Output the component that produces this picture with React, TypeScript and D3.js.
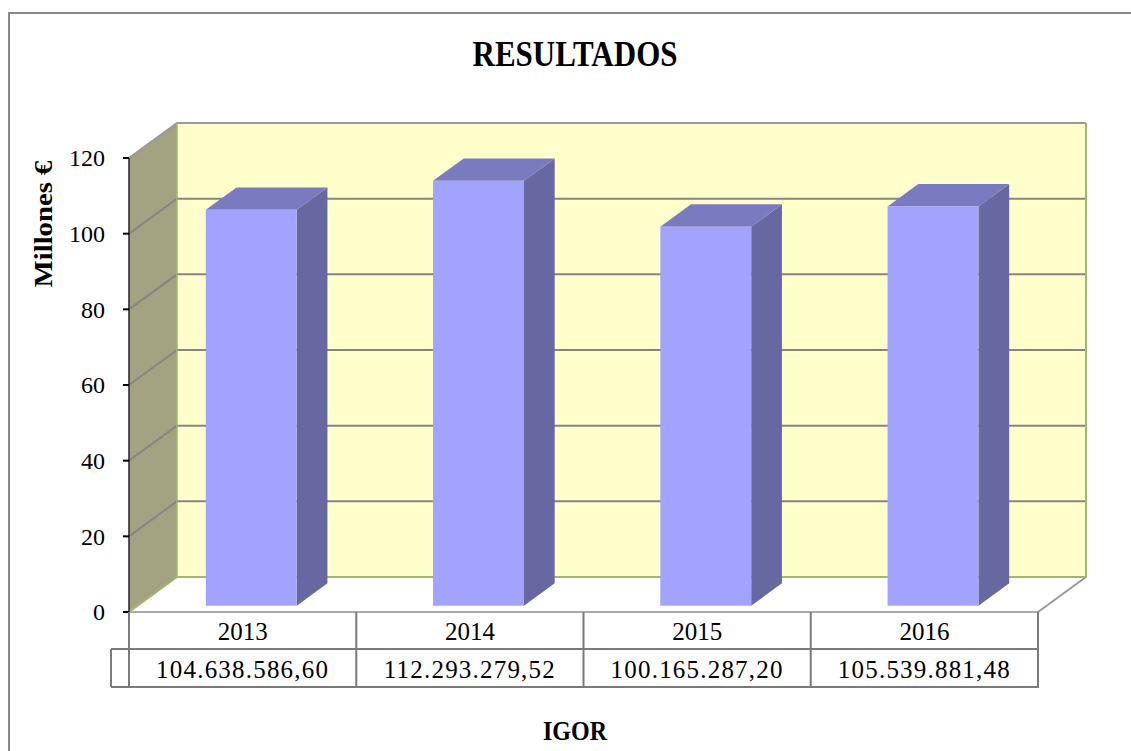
import { useEffect, useRef } from "react"
import * as d3 from "d3"

const years = ["2013", "2014", "2015", "2016"]
const results = [104638586.6, 112293279.52, 100165287.2, 105539881.48]
const yTicks = [0, 20, 40, 60, 80, 100, 120]

const WIDTH = 1131
const HEIGHT = 751

export default function App() {
  const svgRef = useRef<SVGSVGElement>(null)

  useEffect(() => {
    if (!svgRef.current) return
    const svg = d3.select(svgRef.current)
    svg.selectAll("*").remove()

    const font = "Liberation Serif"

    // plot frame (front plane)
    const left = 129
    const right = 1038
    const x = d3.scaleBand<string>().domain(years).range([left, right])
    const y = d3.scaleLinear().domain([0, 120]).range([612, 158])
    const dx = 48
    const dy = -35
    const p = (px: number, py: number, f: number) => [px + dx * f, py + dy * f] as [number, number]

    const line = d3.line()

    // outer border (only top and left are inside the picture)
    svg.append("path")
      .attr("d", line([[9, HEIGHT + 5], [9, 13], [WIDTH + 5, 13]]))
      .attr("fill", "none").attr("stroke", "#888").attr("stroke-width", 2)

    // title
    svg.append("text")
      .attr("transform", "translate(575,66) scale(1,1.18)")
      .attr("text-anchor", "middle")
      .attr("font-family", font).attr("font-weight", "bold").attr("font-size", 31)
      .text("RESULTADOS")

    const y0 = y(0)
    const yTop = y(120)

    // floor
    svg.append("path")
      .attr("d", line([[left, y0], [right, y0], p(right, y0, 1), p(left, y0, 1)]) + "Z")
      .attr("fill", "white").attr("stroke", "none")
    svg.append("path")
      .attr("d", line([[right, y0], p(right, y0, 1)]))
      .attr("stroke", "#999").attr("stroke-width", 2).attr("fill", "none")

    // back wall
    const [bx0, by0] = p(left, y0, 1)
    const [bx1, byTop] = p(right, yTop, 1)
    svg.append("rect")
      .attr("x", bx0).attr("y", byTop)
      .attr("width", bx1 - bx0).attr("height", by0 - byTop)
      .attr("fill", "#FFFFCC")

    // side wall
    svg.append("path")
      .attr("d", line([[left, y0], p(left, y0, 1), p(left, yTop, 1), [left, yTop]]) + "Z")
      .attr("fill", "#A3A382")

    // gridlines on side & back walls
    yTicks.forEach(t => {
      const yy = y(t)
      const [gx, gy] = p(left, yy, 1)
      if (t > 0) {
        svg.append("path")
          .attr("d", line([[left, yy], [gx, gy], p(right, yy, 1)]))
          .attr("stroke", t === 120 ? "#9a9a9a" : "#858585").attr("stroke-width", 2).attr("fill", "none")
      }
    })

    // wall edges
    svg.append("path")
      .attr("d", line([p(right, yTop, 1), p(right, y0, 1), p(left, y0, 1), [left, y0]]))
      .attr("stroke", "#9EB86E").attr("stroke-width", 2).attr("fill", "none")
    svg.append("path")
      .attr("d", line([p(left, y0, 1), p(left, yTop, 1)]))
      .attr("stroke", "#9EB86E").attr("stroke-width", 1.5).attr("fill", "none")

    // bars
    const fFront = 0.18
    const fBack = 0.82
    const bw = x.bandwidth() * 0.4
    results.forEach((v, i) => {
      const cx = (x(years[i]) ?? 0) + x.bandwidth() / 2
      const xl = cx - bw / 2
      const xr = cx + bw / 2
      const yv = y(v / 1e6)
      const a = p(xl, yv, fFront)
      const b = p(xr, yv, fFront)
      const c = p(xr, y0, fFront)
      const bTop = p(xr, yv, fBack)
      const aTop = p(xl, yv, fBack)
      const cBack = p(xr, y0, fBack)
      // side
      svg.append("path")
        .attr("d", line([b, bTop, cBack, c]) + "Z")
        .attr("fill", "#6767A1")
      // top
      svg.append("path")
        .attr("d", line([a, aTop, bTop, b]) + "Z")
        .attr("fill", "#7A7AC0")
      // front
      svg.append("rect")
        .attr("x", a[0]).attr("y", a[1])
        .attr("width", bw).attr("height", c[1] - a[1])
        .attr("fill", "#A2A2FF")
    })

    // front floor edge
    svg.append("path")
      .attr("d", line([[left, y0], [right, y0]]))
      .attr("stroke", "#aaa").attr("stroke-width", 2).attr("fill", "none")

    // y axis
    svg.append("path")
      .attr("d", line([[left, yTop], [left, y0]]))
      .attr("stroke", "#222").attr("stroke-width", 1.5).attr("fill", "none")
    yTicks.forEach(t => {
      svg.append("path")
        .attr("d", line([[left - 6, y(t)], [left, y(t)]]))
        .attr("stroke", "#000").attr("stroke-width", 2)
      svg.append("text")
        .attr("x", 105).attr("y", y(t))
        .attr("dy", "0.35em")
        .attr("text-anchor", "end")
        .attr("font-family", font).attr("font-size", 24)
        .text(t)
    })

    // y axis title
    svg.append("text")
      .attr("transform", "translate(52,224) rotate(-90) scale(1.15,1)")
      .attr("text-anchor", "middle")
      .attr("font-family", font).attr("font-weight", "bold").attr("font-size", 25)
      .text("Millones €")

    // data table
    const es = d3.formatLocale({ decimal: ",", thousands: ".", grouping: [3], currency: ["", "€"] })
    const fmt = es.format(",.2f")
    const r0 = y0
    const r1 = 649
    const r2 = 687
    const tableStroke = "#7a7a7a"
    svg.append("path")
      .attr("d", line([[111, r1], [right + 1, r1]]))
      .attr("stroke", tableStroke).attr("stroke-width", 2)
    svg.append("path")
      .attr("d", line([[111, r2], [right + 1, r2]]))
      .attr("stroke", tableStroke).attr("stroke-width", 2)
    svg.append("path")
      .attr("d", line([[111, r1], [111, r2]]))
      .attr("stroke", tableStroke).attr("stroke-width", 2)
    svg.append("path")
      .attr("d", line([[left, r0], [left, r2]]))
      .attr("stroke", tableStroke).attr("stroke-width", 2)
    years.forEach((yr, i) => {
      const x0 = x(yr) ?? 0
      const x1 = x0 + x.bandwidth()
      svg.append("path")
        .attr("d", line([[x1, r0], [x1, r2]]))
        .attr("stroke", tableStroke).attr("stroke-width", 2)
      svg.append("text")
        .attr("x", (x0 + x1) / 2).attr("y", (r0 + r1) / 2 + 1)
        .attr("dy", "0.35em")
        .attr("text-anchor", "middle")
        .attr("font-family", font).attr("font-size", 25)
        .text(yr)
      svg.append("text")
        .attr("x", (x0 + x1) / 2).attr("y", (r1 + r2) / 2 + 1)
        .attr("dy", "0.35em")
        .attr("text-anchor", "middle")
        .attr("font-family", font).attr("font-size", 25)
        .attr("letter-spacing", 1.2)
        .text(fmt(results[i]))
    })

    // x axis title
    svg.append("text")
      .attr("transform", "translate(575,740) scale(1,1.17)")
      .attr("text-anchor", "middle")
      .attr("font-family", font).attr("font-weight", "bold").attr("font-size", 24)
      .text("IGOR")
  }, [])

  return (
    <div style={{ position: "absolute", left: 0, top: 0 }}>
      <svg ref={svgRef} width={WIDTH} height={HEIGHT} style={{ display: "block" }} />
    </div>
  )
}
